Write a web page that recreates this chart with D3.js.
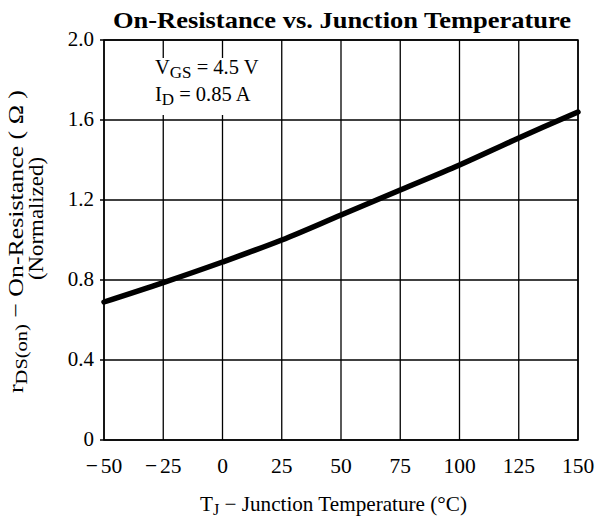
<!DOCTYPE html>
<html>
<head>
<meta charset="utf-8">
<script src="https://cdn.jsdelivr.net/npm/d3@7"></script>
<style>
  body { margin: 0; background: #fff; }
  text { font-family: "Liberation Serif", "Times New Roman", serif; fill: #000; }
</style>
</head>
<body>
<svg id="chart" width="602" height="518"></svg>
<script>
// values
const temps = [-50, -25, 0, 25, 50, 75, 100, 125, 150]
const rdsNorm = [0.69, 0.787, 0.89, 1.0, 1.125, 1.25, 1.375, 1.51, 1.64]
const xTicks = [-50, -25, 0, 25, 50, 75, 100, 125, 150]
const yTicks = [0, 0.4, 0.8, 1.2, 1.6, 2.0]

const margin = { top: 40, right: 24, bottom: 78, left: 104 }
const width = 602 - margin.left - margin.right
const height = 518 - margin.top - margin.bottom

const svg = d3.select('#chart')
const g = svg.append('g').attr('transform', `translate(${margin.left},${margin.top})`)

const x = d3.scaleLinear().domain([-50, 150]).range([0, width])
const y = d3.scaleLinear().domain([0, 2.0]).range([height, 0])

const fmtY = (d) => (d === 0 ? '0' : d3.format('.1f')(d))

// grid
g.append('g')
  .selectAll('line')
  .data(xTicks)
  .join('line')
  .attr('x1', (d) => x(d))
  .attr('x2', (d) => x(d))
  .attr('y1', 0)
  .attr('y2', height)
  .attr('stroke', '#000')
  .attr('stroke-width', 1.3)

g.append('g')
  .selectAll('line')
  .data(yTicks)
  .join('line')
  .attr('x1', -4)
  .attr('x2', width)
  .attr('y1', (d) => y(d))
  .attr('y2', (d) => y(d))
  .attr('stroke', '#000')
  .attr('stroke-width', 1.3)

g.append('rect')
  .attr('width', width)
  .attr('height', height)
  .attr('fill', 'none')
  .attr('stroke', '#000')
  .attr('stroke-width', 1.5)

// blank area behind the condition note
g.append('rect')
  .attr('x', x(-42))
  .attr('y', y(1.91))
  .attr('width', x(10) - x(-42))
  .attr('height', y(1.625) - y(1.91))
  .attr('fill', '#fff')

const note = g.append('g').attr('font-size', 20.5)
const n1 = note.append('text').attr('x', x(-28.5)).attr('y', y(1.83))
n1.append('tspan').text('V')
n1.append('tspan').attr('font-size', 17).attr('dy', 4).text('GS')
n1.append('tspan').attr('dy', -4).text(' = 4.5 V')
const n2 = note.append('text').attr('x', x(-28.5)).attr('y', y(1.695))
n2.append('tspan').text('I')
n2.append('tspan').attr('font-size', 17).attr('dy', 4).text('D')
n2.append('tspan').attr('dy', -4).text(' = 0.85 A')

// curve
const line = d3.line()
  .x((d, i) => x(temps[i]))
  .y((d) => y(d))
  .curve(d3.curveCatmullRom)

g.append('path')
  .datum(rdsNorm)
  .attr('d', line)
  .attr('fill', 'none')
  .attr('stroke', '#000')
  .attr('stroke-width', 5.5)
  .attr('stroke-linecap', 'round')

// tick labels
g.append('g')
  .attr('font-size', 21)
  .attr('text-anchor', 'end')
  .selectAll('text')
  .data(yTicks)
  .join('text')
  .attr('x', -10)
  .attr('y', (d) => y(d) + 6)
  .text(fmtY)

const xl = g.append('g')
  .attr('font-size', 21.5)
  .attr('text-anchor', 'middle')
  .selectAll('text')
  .data(xTicks)
  .join('text')
  .attr('x', (d) => x(d))
  .attr('y', height + 33)
xl.filter((d) => d < 0).append('tspan').text('\u2212')
xl.append('tspan')
  .attr('dx', (d) => (d < 0 ? 3 : 0))
  .text((d) => String(Math.abs(d)))

// title
svg.append('text')
  .attr('x', 342)
  .attr('y', 28)
  .attr('text-anchor', 'middle')
  .attr('font-size', 23.5)
  .attr('font-weight', 'bold')
  .attr('textLength', 458)
  .attr('lengthAdjust', 'spacingAndGlyphs')
  .text('On-Resistance vs. Junction Temperature')

// x axis title
const xt = svg.append('text')
  .attr('x', 200)
  .attr('y', 511)
  .attr('font-size', 21)
  .attr('textLength', 267)
  .attr('lengthAdjust', 'spacingAndGlyphs')
xt.append('tspan').text('T')
xt.append('tspan').attr('font-size', 16).attr('dy', 4).text('J')
xt.append('tspan').attr('dy', -4).text(' \u2212 Junction Temperature (\u00b0C)')

// y axis title
const yt = svg.append('text')
  .attr('transform', 'translate(23,393) rotate(-90)')
  .attr('font-size', 21.5)
  .attr('textLength', 303)
  .attr('lengthAdjust', 'spacingAndGlyphs')
yt.append('tspan').text('r')
yt.append('tspan').attr('font-size', 17).attr('dy', 4).text('DS(on)')
yt.append('tspan').attr('dy', -4).text('  \u2212  On-Resistance ( \u03a9 )')

svg.append('text')
  .attr('transform', 'translate(43,280) rotate(-90)')
  .attr('font-size', 21.5)
  .attr('textLength', 123)
  .attr('lengthAdjust', 'spacingAndGlyphs')
  .text('(Normalized)')
</script>
</body>
</html>
